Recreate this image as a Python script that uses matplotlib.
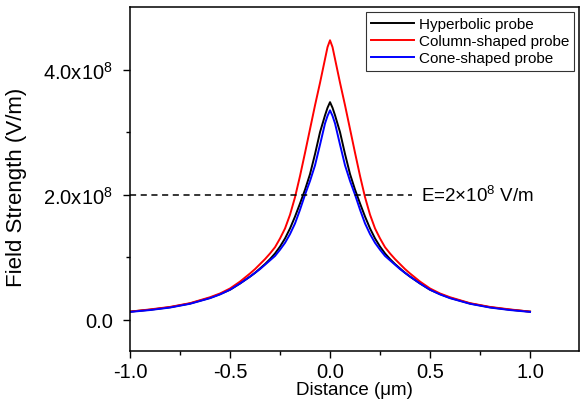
import matplotlib
matplotlib.use('Agg')
import matplotlib.pyplot as plt
from matplotlib.ticker import FixedLocator

plt.rcParams['font.family'] = ['Liberation Sans', 'DejaVu Sans']
plt.rcParams['mathtext.fontset'] = 'custom'
plt.rcParams['mathtext.rm'] = 'Liberation Sans'
plt.rcParams['mathtext.it'] = 'Liberation Sans'

# distance (um)
x = [-1.0, -0.9, -0.8, -0.7, -0.6, -0.55, -0.5, -0.45, -0.4, -0.375, -0.35, -0.325, -0.3, -0.275, -0.25,
     -0.225, -0.2, -0.175, -0.15, -0.125, -0.1, -0.075, -0.05, -0.025, -0.0125,
     0.0, 0.0125, 0.025, 0.05, 0.075, 0.1, 0.125, 0.15, 0.175, 0.2, 0.225, 0.25, 0.275, 0.3, 0.325, 0.35,
     0.375, 0.4, 0.45, 0.5, 0.55, 0.6, 0.7, 0.8, 0.9, 1.0]
# field strength (x1e8 V/m)
hyperbolic = [0.13, 0.16, 0.2, 0.26, 0.35, 0.41, 0.48, 0.58, 0.69, 0.75, 0.82, 0.89, 0.97, 1.06, 1.17,
              1.3, 1.46, 1.65, 1.86, 2.08, 2.33, 2.65, 3.0, 3.27, 3.39,
              3.48, 3.39, 3.27, 3.0, 2.65, 2.33, 2.08, 1.86, 1.65, 1.46, 1.3, 1.17, 1.06, 0.97, 0.89, 0.82,
              0.75, 0.69, 0.58, 0.48, 0.41, 0.35, 0.26, 0.2, 0.16, 0.13]
column = [0.13, 0.165, 0.205, 0.265, 0.36, 0.42, 0.5, 0.61, 0.74, 0.81, 0.89, 0.97, 1.06, 1.16, 1.3,
          1.46, 1.68, 1.96, 2.3, 2.67, 3.05, 3.43, 3.79, 4.17, 4.36,
          4.47, 4.36, 4.17, 3.79, 3.43, 3.05, 2.67, 2.3, 1.96, 1.68, 1.46, 1.3, 1.16, 1.06, 0.97, 0.89,
          0.81, 0.74, 0.61, 0.5, 0.42, 0.36, 0.265, 0.205, 0.165, 0.13]
cone = [0.125, 0.155, 0.195, 0.255, 0.345, 0.405, 0.48, 0.58, 0.69, 0.75, 0.81, 0.88, 0.95, 1.02, 1.12,
        1.23, 1.37, 1.54, 1.76, 2.0, 2.22, 2.47, 2.8, 3.14, 3.26,
        3.35, 3.26, 3.14, 2.8, 2.47, 2.22, 2.0, 1.76, 1.54, 1.37, 1.23, 1.12, 1.02, 0.95, 0.88, 0.81,
        0.75, 0.69, 0.58, 0.48, 0.405, 0.345, 0.255, 0.195, 0.155, 0.125]
threshold = 2.0

fig = plt.figure(figsize=(5.82, 4.06), dpi=100)
ax = fig.add_axes([0.2234, 0.133, 0.7715, 0.847])

ax.plot(x, [v * 1e8 for v in hyperbolic], color='black', lw=1.4, label='Hyperbolic probe')
ax.plot(x, [v * 1e8 for v in column], color='red', lw=1.4, label='Column-shaped probe')
ax.plot(x, [v * 1e8 for v in cone], color='blue', lw=1.4, label='Cone-shaped probe')
ax.plot([-1.0, 0.41], [threshold * 1e8, threshold * 1e8], color='black', lw=1.1, ls=(0, (4, 3)))
ax.text(0.455, threshold * 1e8, r'E=2×10$^{8}$ V/m', fontsize=13.5, va='center', ha='left')

ax.set_xlim(-1.0, 1.245)
ax.set_ylim(-0.5e8, 5.0e8)
ax.xaxis.set_major_locator(FixedLocator([-1.0, -0.5, 0.0, 0.5, 1.0]))
ax.xaxis.set_minor_locator(FixedLocator([-0.75, -0.25, 0.25, 0.75]))
ax.set_xticklabels(['-1.0', '-0.5', '0.0', '0.5', '1.0'])
ax.yaxis.set_major_locator(FixedLocator([0, 2e8, 4e8]))
ax.yaxis.set_minor_locator(FixedLocator([1e8, 3e8]))
ax.set_yticklabels(['0.0', r'2.0x10$^{8}$', r'4.0x10$^{8}$'])
ax.tick_params(which='major', direction='out', length=5, width=1, labelsize=14.5)
ax.tick_params(axis='x', which='major', pad=3)
ax.tick_params(axis='y', which='major', pad=7)
ax.tick_params(which='minor', direction='out', length=3, width=1)
for s in ax.spines.values():
    s.set_linewidth(1.1)

ax.set_xlabel('Distance (μm)', fontsize=13.5)
ax.xaxis.set_label_coords(0.5, -0.087)
ax.set_ylabel('Field Strength (V/m)', fontsize=16)
ax.yaxis.set_label_coords(-0.229, 0.48)

leg = ax.legend(loc='upper right', fontsize=11, frameon=True, fancybox=False,
                edgecolor='black', handlelength=2.8, handletextpad=0.3, borderpad=0.35,
                labelspacing=0.2, borderaxespad=0.3)
leg.get_frame().set_linewidth(0.8)

fig.savefig('out.png', dpi=100)
